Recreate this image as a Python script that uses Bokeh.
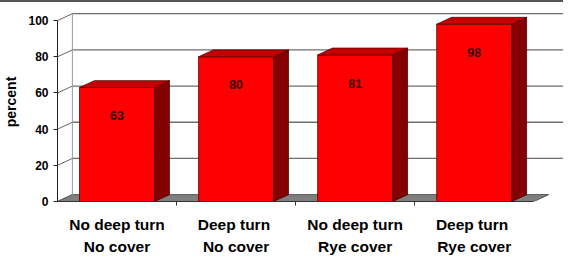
from bokeh.plotting import figure
from bokeh.models import FixedTicker, LinearAxis, ColumnDataSource, Range1d
from bokeh.core.properties import value
from bokeh.embed import file_html
from bokeh.resources import INLINE

# ---- data ----
line1 = ["No deep turn", "Deep  turn", "No deep turn", "Deep  turn"]
line2 = ["No cover", "No cover", "Rye cover", "Rye cover"]
values = [63, 80, 81, 98]
yticks = [0, 20, 40, 60, 80, 100]

FONT = "Liberation Sans"
n = len(values)
centers = [i + 0.5 for i in range(n)]
hw = 0.315          # half bar width (category units)
dx = 0.125          # depth offset x
dy = 3.8            # depth offset y (value units)
XEND = 4.25

p = figure(width=563, height=255, output_backend="svg", toolbar_location=None,
           x_range=Range1d(0, XEND), y_range=Range1d(0, 110.0),
           min_border_left=55, min_border_right=0, min_border_top=0, min_border_bottom=0,
           x_axis_location=None, y_axis_location="left")
p.styles = {"border-top": "2px solid #555555"}
p.outline_line_color = None
p.xgrid.visible = False
p.ygrid.visible = False
p.background_fill_color = "white"

# floor
p.patch([0, n, n + dx, dx], [0, 0, dy, dy], fill_color="#7f7f7f",
        line_color="#555555", line_width=1)

# back wall gridlines
gv = [v for v in yticks if v > 0]
p.segment(x0=[dx] * len(gv), y0=[v + dy for v in gv], x1=[XEND + 1] * len(gv),
          y1=[v + dy for v in gv], line_color="#6e6e6e", line_width=1.3)
# connectors from axis ticks to back wall
p.segment(x0=[0] * len(yticks), y0=yticks, x1=[dx] * len(yticks),
          y1=[v + dy for v in yticks], line_color="#666666", line_width=1)
# back wall vertical line
p.segment(x0=[dx], y0=[dy], x1=[dx], y1=[max(yticks) + dy],
          line_color="#999999", line_width=1)

# bars
side_x, side_y, top_x, top_y = [], [], [], []
for c, v in zip(centers, values):
    l, r = c - hw, c + hw
    side_x.append([r, r + dx, r + dx, r]); side_y.append([0, dy, v + dy, v])
    top_x.append([l, r, r + dx, l + dx]); top_y.append([v, v, v + dy, v + dy])
p.quad(left=[c - hw for c in centers], right=[c + hw for c in centers],
       bottom=[0] * n, top=values, fill_color="#ff0000", line_color="#600000", line_width=0.8)
p.patches(side_x, side_y, fill_color="#850000", line_color="#500000", line_width=0.8)
p.patches(top_x, top_y, fill_color="#c40000", line_color="#600000", line_width=0.8)

# value labels
src = ColumnDataSource(dict(x=centers, y=[v - 15.5 for v in values],
                            t=[str(v) for v in values]))
p.text(x="x", y="y", text="t", source=src, text_align="center", text_baseline="middle",
       text_font=value(FONT), text_font_style="bold", text_font_size="12.5px",
       text_color="#3a0000")

# y axis
ya = p.yaxis[0]
ya.ticker = FixedTicker(ticks=yticks)
ya.bounds = (0, 100)
ya.axis_line_color = "#222222"
ya.major_tick_line_color = "#222222"
ya.major_tick_out = 4
ya.major_tick_in = 0
ya.minor_tick_line_color = None
ya.major_label_text_font = FONT
ya.major_label_text_font_style = "bold"
ya.major_label_text_font_size = "12px"
ya.major_label_text_color = "black"
ya.major_label_standoff = 5
ya.axis_label = "percent"
ya.axis_label_text_font = FONT
ya.axis_label_text_font_style = "bold"
ya.axis_label_text_font_size = "14px"
ya.axis_label_text_color = "black"
ya.axis_label_standoff = 6

# x axes (two label rows)
xa1 = LinearAxis(ticker=FixedTicker(ticks=centers, minor_ticks=[1, 2, 3]),
                 major_label_overrides={c: t for c, t in zip(centers, line1)})
xa1.bounds = (0, n)
xa1.axis_line_color = "#333333"
xa1.major_tick_line_color = None
xa1.major_tick_out = 0
xa1.minor_tick_out = 4
xa1.minor_tick_in = 0
xa1.minor_tick_line_color = "#333333"
xa1.major_label_standoff = 10
xa1.major_label_text_font = FONT
xa1.major_label_text_font_style = "bold"
xa1.major_label_text_font_size = "15.5px"
xa1.major_label_text_color = "black"
p.add_layout(xa1, "below")

xa2 = LinearAxis(ticker=FixedTicker(ticks=centers),
                 major_label_overrides={c: t for c, t in zip(centers, line2)})
xa2.axis_line_color = None
xa2.major_tick_line_color = None
xa2.minor_tick_line_color = None
xa2.major_tick_out = 0
xa2.major_label_standoff = 2
xa2.major_label_text_font = FONT
xa2.major_label_text_font_style = "bold"
xa2.major_label_text_font_size = "15.5px"
xa2.major_label_text_color = "black"
p.add_layout(xa2, "below")

open("out.html", "w").write(file_html(p, INLINE))
